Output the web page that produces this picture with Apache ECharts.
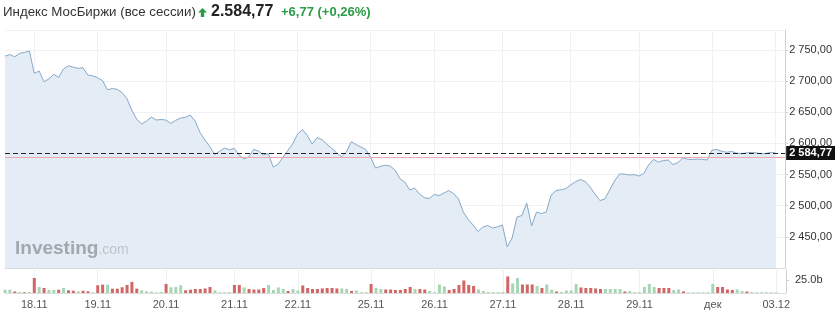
<!DOCTYPE html>
<html>
<head>
<meta charset="utf-8">
<script src="https://cdn.jsdelivr.net/npm/echarts@6.0.0/dist/echarts.min.js"></script>
<style>
html,body{margin:0;padding:0;background:#fff;}
#chart{width:835px;height:313px;}
</style>
</head>
<body>
<div id="chart"></div>
<script>
// ---- DATA ----
const dayLabels = ['', '18.11', '19.11', '20.11', '21.11', '22.11', '25.11', '26.11', '27.11', '28.11', '29.11', 'дек', '03.12'];
const barsPerDay = [6, 13, 14, 14, 13, 15, 13, 14, 14, 14, 15, 13, 1];

const priceValues = [
  2740.1, 2742.5, 2739.0, 2744.5, 2746.0, 2748.2, 2712.4, 2716.1, 2698.9, 2703.5,
  2710.8, 2706.0, 2719.6, 2724.6, 2722.5, 2720.4, 2721.4, 2709.7, 2708.5, 2705.3,
  2700.8, 2686.0, 2688.0, 2686.9, 2681.6, 2671.9, 2653.5, 2639.0, 2631.0, 2635.8,
  2642.3, 2637.5, 2638.3, 2637.5, 2632.2, 2637.0, 2640.7, 2641.8, 2645.5, 2635.8,
  2617.4, 2605.4, 2594.9, 2582.1, 2587.2, 2592.5, 2589.8, 2592.0, 2581.3, 2574.9,
  2578.6, 2590.4, 2587.7, 2581.3, 2583.7, 2562.0, 2566.4, 2577.6, 2588.7, 2599.4,
  2615.0, 2622.2, 2612.6, 2599.0, 2609.4, 2606.0, 2599.0, 2592.0, 2585.0, 2578.4,
  2586.1, 2602.6, 2598.1, 2594.1, 2590.1, 2577.3, 2560.4, 2563.2, 2565.0, 2563.6,
  2557.2, 2543.4, 2538.0, 2525.1, 2528.4, 2518.7, 2513.0, 2511.5, 2517.9, 2516.3,
  2520.3, 2524.3, 2519.5, 2510.7, 2489.8, 2477.8, 2469.0, 2458.6, 2465.8, 2468.2,
  2464.2, 2466.1, 2469.0, 2433.7, 2448.1, 2481.8, 2484.2, 2504.3, 2467.4, 2489.8,
  2487.4, 2489.8, 2517.1, 2524.3, 2525.6, 2527.5, 2533.2, 2538.5, 2542.0, 2538.8,
  2530.0, 2518.7, 2508.3, 2510.7, 2525.1, 2539.6, 2550.8, 2550.8, 2549.2, 2550.0,
  2547.6, 2551.6, 2565.6, 2574.4, 2570.0, 2572.5, 2573.3, 2566.0, 2569.3, 2576.5,
  2574.6, 2574.2, 2574.8, 2574.4, 2573.3, 2589.3, 2590.1, 2587.4, 2585.8, 2587.1,
  2584.5, 2583.5, 2584.7, 2585.5, 2584.8, 2583.4, 2583.7, 2585.6, 2584.77
];

// volume, billions
const volumeValues = [
  6.3, 6.3, 2.9, 1.9, 1.5, 1.9, 28.8, 11.5, 9.6, 5.8,
  5.8, 6.3, 9.6, 5.2, 4.4, 3.3, 4.4, 3.3, 1.3, 14.8,
  16.0, 16.0, 8.3, 8.3, 11.0, 15.4, 21.2, 8.3, 5.2, 3.3,
  2.5, 1.3, 1.9, 17.3, 11.0, 11.5, 14.8, 5.2, 6.3, 7.7,
  7.7, 8.7, 11.5, 4.8, 1.5, 1.5, 1.5, 15.4, 15.4, 10.6,
  7.7, 6.7, 6.7, 9.6, 15.4, 5.8, 10.6, 7.7, 3.8, 7.7,
  4.8, 14.4, 9.6, 7.7, 7.7, 8.7, 9.6, 9.6, 8.7, 8.7,
  7.7, 3.8, 4.8, 1.5, 1.5, 17.3, 9.6, 7.7, 6.7, 6.7,
  5.8, 5.8, 7.7, 11.5, 7.7, 7.7, 6.7, 3.8, 1.5, 16.3,
  12.5, 5.8, 7.7, 15.4, 24.0, 15.4, 13.5, 6.7, 3.8, 1.9,
  1.5, 1.5, 1.9, 31.7, 18.3, 28.8, 16.3, 16.3, 16.3, 13.5,
  9.6, 16.3, 6.7, 2.9, 1.9, 4.8, 4.8, 17.3, 10.6, 9.6,
  9.6, 8.7, 7.7, 7.7, 7.7, 7.7, 7.7, 2.9, 3.8, 1.5,
  1.5, 11.5, 17.3, 11.5, 9.6, 9.6, 9.6, 5.8, 6.7, 2.9,
  1.3, 1.3, 1.3, 1.3, 1.3, 17.3, 11.5, 11.5, 6.7, 5.8,
  6.7, 3.8, 2.9, 1.9, 1.5, 1.5, 1.3, 1.3, 1.3
];
// g = up bar, r = down bar
const volumeDirection = ('ggrgrgrgrg' + 'grgrrgrrgr' + 'rgrrrrrrgg' + 'gggrgggrrr' + 'rrrggggrrg' +
  'rrrrggggrg' + 'grrrrrrrrg' + 'grgggrggrr' + 'rrrrgrrggg' + 'grrrrrrggg' +
  'gggrggrrrg' + 'rggrggggrr' + 'rrrggggrgg' + 'ggggrrrggr' + 'ggggggrrrr' + 'ggrgggggg').split('');

const yTicks = { min: 2400, max: 2782, interval: 50 };
const lastPrice = 2584.77;
const prevClose = 2578.00;
const volumeTick = 25;

// ---- build categories ----
const categories = [];
const labelIdx = new Set();
dayLabels.forEach((d, k) => {
  for (let j = 0; j < barsPerDay[k]; j++) {
    if (j === 0 && d !== '') labelIdx.add(categories.length);
    categories.push(j === 0 ? d : d + '_' + j);
  }
});
categories.push('_e1', '_e2');

const fmtPrice = v => {
  const p = Number(v).toFixed(2).split('.');
  return p[0].replace(/\B(?=(\d{3})+(?!\d))/g, ' ') + ',' + p[1];
};

const FONT = '"Liberation Sans", Arial, sans-serif';
const showIdx = i => labelIdx.has(i);

const chart = echarts.init(document.getElementById('chart'), null, { renderer: 'canvas' });
chart.setOption({
  animation: false,
  backgroundColor: '#fff',
  textStyle: { fontFamily: FONT },
  grid: [
    { left: 5, right: 49, top: 30, height: 238 },
    { left: 5, right: 49, top: 270, height: 23 }
  ],
  xAxis: [
    {
      type: 'category', gridIndex: 0, data: categories, boundaryGap: false,
      axisLine: { show: true, lineStyle: { color: '#d5dbe2', width: 1 } },
      axisTick: { show: false },
      axisLabel: { show: false },
      splitLine: { show: true, interval: showIdx, lineStyle: { color: '#eef0f3', width: 1 } }
    },
    {
      type: 'category', gridIndex: 1, data: categories, boundaryGap: false,
      axisLine: { show: true, lineStyle: { color: '#dcdcdc', width: 1 } },
      axisTick: { show: false },
      axisLabel: {
        show: true, interval: showIdx, color: '#555', fontSize: 11, margin: 6, fontFamily: FONT,
        formatter: v => v
      },
      splitLine: { show: true, interval: showIdx, lineStyle: { color: '#eef0f3', width: 1 } }
    }
  ],
  yAxis: [
    {
      type: 'value', gridIndex: 0, position: 'right',
      min: yTicks.min, max: yTicks.max, interval: yTicks.interval,
      axisLine: { show: true, lineStyle: { color: '#d0d0d0' } },
      axisTick: { show: true, length: 3, lineStyle: { color: '#d0d0d0' } },
      axisLabel: {
        color: '#333', fontSize: 11, margin: 4, fontFamily: FONT,
        showMinLabel: false, showMaxLabel: false,
        formatter: fmtPrice
      },
      splitLine: { show: true, lineStyle: { color: '#f0f1f3', width: 1 } }
    },
    {
      type: 'value', gridIndex: 1, position: 'right',
      min: 0, max: 44, interval: volumeTick,
      axisLine: { show: true, lineStyle: { color: '#d0d0d0' } },
      axisTick: { show: true, length: 3, lineStyle: { color: '#d0d0d0' } },
      axisLabel: {
        color: '#333', fontSize: 11, margin: 9, fontFamily: FONT,
        showMinLabel: false, showMaxLabel: false,
        formatter: v => v.toFixed(1) + 'b'
      },
      splitLine: { show: false }
    }
  ],
  series: [
    {
      type: 'line', xAxisIndex: 0, yAxisIndex: 0,
      data: priceValues, symbol: 'none', smooth: false,
      lineStyle: { color: '#87a9c7', width: 1 },
      areaStyle: { color: '#e4edf6', opacity: 1, origin: 'start' },
      markLine: {
        silent: true, symbol: 'none', animation: false,
        data: [
          {
            yAxis: prevClose,
            lineStyle: { color: '#eeaab2', type: 'solid', width: 1 },
            label: { show: false }
          },
          {
            yAxis: lastPrice,
            lineStyle: { color: '#222', type: [5, 3], width: 1 },
            label: {
              show: true, position: 'end', distance: 1,
              formatter: () => fmtPrice(lastPrice),
              color: '#fff', backgroundColor: '#111', fontSize: 11, fontWeight: 'bold',
              fontFamily: FONT, padding: [2, 3, 1, 3]
            }
          }
        ]
      },
      z: 2
    },
    {
      type: 'bar', xAxisIndex: 1, yAxisIndex: 1,
      barWidth: 3,
      data: volumeValues.map((v, i) => ({
        value: v,
        itemStyle: { color: volumeDirection[i] === 'g' ? '#a6d6b3' : '#d16666' }
      }))
    }
  ],
  graphic: [
    {
      type: 'text', x: 3, y: 12,
      style: { text: 'Индекс МосБиржи (все сессии)', font: '13.3px ' + FONT, fill: '#333', verticalAlign: 'middle' }
    },
    {
      type: 'polygon',
      shape: { points: [[202.5, 8], [207, 12.5], [204.2, 12.5], [204.2, 17], [200.8, 17], [200.8, 12.5], [198, 12.5]] },
      style: { fill: '#2b9b48' }
    },
    {
      type: 'text', x: 211, y: 12,
      style: { text: '2.584,77', font: 'bold 16px ' + FONT, fill: '#222', verticalAlign: 'middle' }
    },
    {
      type: 'text', x: 281, y: 12.5,
      style: { text: '+6,77 (+0,26%)', font: 'bold 13px ' + FONT, fill: '#2b9b48', verticalAlign: 'middle' }
    },
    {
      type: 'text', x: 15, y: 249, z: 10,
      style: {
        text: '{a|Investing}{b|.com}', verticalAlign: 'middle',
        rich: {
          a: { fontSize: 19, fontWeight: 'bold', fill: '#a4a8ad', fontFamily: FONT },
          b: { fontSize: 14, fill: '#bfc3c8', fontFamily: FONT, padding: [3, 0, 0, 0] }
        }
      }
    }
  ]
});
</script>
</body>
</html>
